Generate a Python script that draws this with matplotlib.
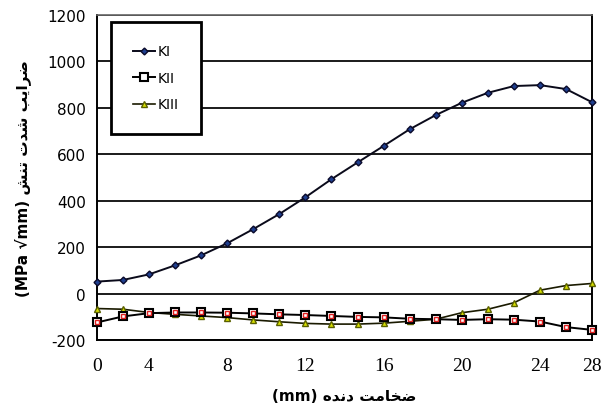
import matplotlib
matplotlib.use("Agg")
import matplotlib.pyplot as plt

plt.rcParams["axes.unicode_minus"] = False

# 20 sample points along the rib thickness (category axis, as in the source)
points = list(range(20))
tick_pos = [0, 2, 5, 8, 11, 14, 17, 19]
tick_labels = ["0", "4", "8", "12", "16", "20", "24", "28"]

ki = [52, 59, 83, 122, 165, 217, 278, 343, 415, 493, 565, 636, 708, 769,
      822, 865, 894, 898, 881, 824]
kii = [-124, -98, -84, -81, -81, -82, -85, -89, -92, -96, -100, -102, -108,
       -110, -113, -110, -112, -120, -144, -156]
kiii = [-64, -67, -81, -89, -96, -103, -113, -121, -128, -131, -131, -127,
        -119, -110, -82, -67, -39, 15, 35, 44]

# Persian labels, pre-shaped (presentation forms, visual order)
ylabel_fa = "\uFEB6\uFEE8\uFE97 \uFE95\uFEAA\uFEB7 \uFE90\uFEF3\uFE8D\uFEAE\uFEBF"
xlabel_fa = "\uFEE9\uFEAA\uFEE7\uFEA9 \uFE96\uFEE3\uFE8E\uFEA8\uFEBF"

fig = plt.figure(figsize=(6.13, 4.10), dpi=100)
ax = fig.add_axes([0.158, 0.168, 0.808, 0.793])

ax.plot(points, ki, color="#0a0a1a", lw=1.4, marker="D", ms=3.5,
        mfc="#1f3f8f", mec="#0a0a2a", label="KI", clip_on=False, zorder=4)
ax.plot(points, kii, color="black", lw=1.4, marker="s", ms=5.5,
        mfc="white", mec="black", mew=1.5, label="KII", clip_on=False, zorder=4)
ax.plot(points, kii, ls="none", marker="s", ms=3, mfc="white",
        mec="#e02020", mew=1.0, clip_on=False, zorder=5)
ax.plot(points, kiii, color="#1a1a00", lw=1.2, marker="^", ms=4.5,
        mfc="#d8e000", mec="#5a6000", label="KIII", clip_on=False, zorder=3)

ax.set_xlim(0, 19)
ax.set_ylim(-200, 1200)
ax.set_yticks(range(-200, 1201, 200))
ax.set_xticks(tick_pos)
ax.set_xticklabels(tick_labels, family="Liberation Serif", fontsize=14)
for t in ax.get_yticklabels():
    t.set_fontsize(11)
    t.set_family("DejaVu Sans")
ax.tick_params(axis="y", length=0, pad=8)
ax.tick_params(axis="x", length=0, pad=12)

ax.yaxis.grid(True, color="#1a1a1a", lw=1.4)
ax.set_axisbelow(True)
for side in ["left", "bottom", "right"]:
    ax.spines[side].set_linewidth(1.4)
    ax.spines[side].set_color("black")
ax.spines["top"].set_color("#666666")
ax.spines["top"].set_linewidth(1.2)

ax.set_xlabel("(mm) " + xlabel_fa, fontsize=11, fontweight="bold", labelpad=10)
ax.set_ylabel("(MPa \u221amm) " + ylabel_fa, fontsize=11, fontweight="bold",
              labelpad=12)

leg = ax.legend(loc="upper left", bbox_to_anchor=(0.028, 0.978), fontsize=10,
                frameon=True, fancybox=False, borderpad=1.6, labelspacing=0.9,
                handlelength=1.6, handletextpad=0.2, borderaxespad=0)
leg.get_frame().set_edgecolor("black")
leg.get_frame().set_linewidth(2)
leg.get_frame().set_alpha(1)

fig.savefig("out.png", dpi=100)
